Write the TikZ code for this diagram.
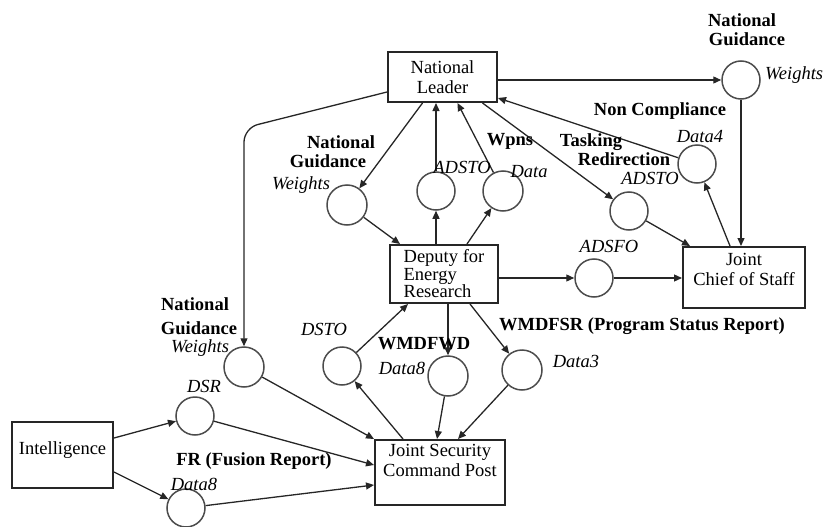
\documentclass[tikz,border=0pt]{standalone}
\usepackage{fontspec}
\setmainfont{Liberation Serif}
\usetikzlibrary{arrows.meta}
\newcommand\lowerby[1]{\rule[-#1]{0pt}{0pt}}
\begin{document}
\begin{tikzpicture}[x=1pt,y=-1pt,
  every node/.style={font=\fontsize{18.5}{20}\selectfont, inner sep=0pt},
  box/.style={draw=black!85, line width=2pt, rectangle, align=center},
  place/.style={draw=black!70, line width=1.5pt, circle, minimum size=38pt},
  conn/.style={draw=black!85, line width=1.3pt, -{Triangle[length=8pt,width=7pt]}},
  lb/.style={font=\fontsize{18.5}{20}\selectfont\bfseries, anchor=base},
  li/.style={font=\fontsize{18.5}{20}\selectfont\itshape, anchor=base},
]
\useasboundingbox (0,0) rectangle (835,527);

% boxes
\node[box, minimum width=109pt, minimum height=50pt] (leader) at (442.5,77) {National\\Leader};
\node[box, minimum width=108pt, minimum height=58pt, align=left, font=\fontsize{18.5}{17.5}\selectfont] (deputy) at (444,274) {Deputy for\\Energy\\Research};
\node[box, minimum width=122pt, minimum height=61pt] (jcs) at (744,277.5) {Joint\\Chief of Staff\lowerby{15.5pt}};
\node[box, minimum width=130pt, minimum height=65pt] (jscp) at (440,472.5) {Joint Security\\Command Post\lowerby{23.5pt}};
\node[box, minimum width=101pt, minimum height=66pt] (intel) at (62.5,455) {Intelligence\lowerby{14.5pt}};

% places
\node[place] (cTR) at (741,80) {};
\node[place] (cDfour) at (697,164) {};
\node[place] (cTask) at (629,211) {};
\node[place] (cAD) at (436,191) {};
\node[place, minimum size=40pt] (cData) at (503,191) {};
\node[place, minimum size=40pt] (cNGW) at (347,205) {};
\node[place] (cADSFO) at (594,278) {};
\node[place] (cDSTO) at (342,366) {};
\node[place, minimum size=40pt] (cWMD) at (448,376) {};
\node[place, minimum size=40pt] (cDthree) at (522,370) {};
\node[place, minimum size=40pt] (cNGWb) at (244,367) {};
\node[place] (cDSR) at (195,416) {};
\node[place] (cBot) at (186,508) {};

% connectors
\draw[conn] (leader.east |- cTR) -- (cTR);
\draw[conn] (cTR) -- (cTR |- jcs.north);
\draw[conn] ([xshift=-14pt]jcs.north) -- (cDfour);
\draw[conn] (cDfour) -- ([yshift=5pt]leader.south east);
\draw[conn] ([xshift=40pt]leader.south) -- (cTask);
\draw[conn] (cTask) -- ([xshift=-54pt]jcs.north);
\draw[conn] ([xshift=-20pt]leader.south) -- (cNGW);
\draw[conn] (cNGW) -- ([xshift=-44pt]deputy.north);
\draw[conn] (cAD |- deputy.north) -- (cAD);
\draw[conn] (cAD) -- (cAD |- leader.south);
\draw[conn] ([xshift=23pt]deputy.north) -- (cData);
\draw[conn] (cData) -- ([xshift=15pt]leader.south);
\draw[conn] (deputy.east |- cADSFO) -- (cADSFO);
\draw[conn] (cADSFO) -- (jcs.west |- cADSFO);
\draw[conn] (cWMD |- deputy.south) -- (cWMD);
\draw[conn] ([xshift=26pt]deputy.south) -- (cDthree);
\draw[conn] (cDSTO) -- ([xshift=-36pt]deputy.south);
\draw[conn] ([xshift=-37pt]jscp.north) -- (cDSTO);
\draw[conn] (cWMD) -- ([xshift=-3pt]jscp.north);
\draw[conn] (cDthree) -- ([xshift=18pt]jscp.north);
\draw[conn] (cNGWb) -- (jscp.north west);
\draw[conn] (cDSR) -- ([yshift=7.5pt]jscp.west);
\draw[conn] (cBot) -- ([yshift=-12.5pt]jscp.west);
\draw[conn] ([yshift=17pt]intel.east) -- (cDSR);
\draw[conn] ([yshift=-17pt]intel.east) -- (cBot);
\coordinate (bend) at (244,128);
\draw[conn, rounded corners=14pt] ([yshift=-15pt]leader.west) -- (bend) -- (cNGWb);

% labels
\node[lb] (tNat1) at (742,26.5) {National};
\node[lb] (tGui1) at (747,45.5) {Guidance};
\node[li, anchor=base west] (tWei1) at (765,79.5) {Weights};
\node[lb] (tNonC) at (660,115.5) {Non Compliance};
\node[li] (tDfour) at (700,142.5) {Data4};
\node[lb] (tTask) at (591,146.5) {Tasking};
\node[lb] (tRedir) at (624,165) {Redirection};
\node[li] (tADSTOb) at (650,184.5) {ADSTO};
\node[lb] (tWpns) at (510,145.5) {Wpns};
\node[li] (tADSTO) at (462,173.5) {ADSTO};
\node[li] (tData) at (529,177.5) {Data};
\node[lb] (tNat2) at (341,148.5) {National};
\node[lb] (tGui2) at (328,167.5) {Guidance};
\node[li] (tWei2) at (301,189.5) {Weights};
\node[li] (tADSFO) at (609,252.5) {ADSFO};
\node[lb] (tWMDFSR) at (642,330.5) {WMDFSR (Program Status Report)};
\node[li] (tDthree) at (576,367.5) {Data3};
\node[li] (tDSTO) at (324,335.5) {DSTO};
\node[lb] (tWMDFWD) at (424,349.5) {WMDFWD};
\node[li] (tDeight) at (402,374.5) {Data8};
\node[lb] (tNat3) at (195,310.5) {National};
\node[lb] (tGui3) at (199,334.5) {Guidance};
\node[li] (tWei3) at (200,352.5) {Weights};
\node[li] (tDSR) at (204,392.5) {DSR};
\node[lb] (tFR) at (254,465.5) {FR (Fusion Report)};
\node[li] (tDeightb) at (194,490.5) {Data8};
\end{tikzpicture}
\end{document}
